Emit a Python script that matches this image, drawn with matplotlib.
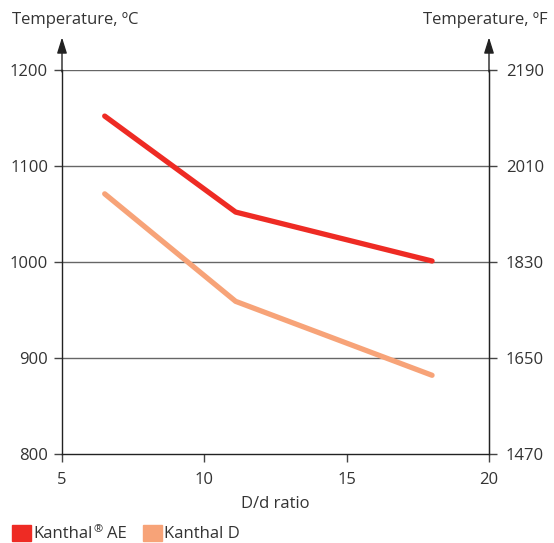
import matplotlib.pyplot as plt
from matplotlib.patches import Rectangle

# data
ratio = [6.5, 11.1, 18]
kanthal_ae = [1152, 1052, 1001]
kanthal_d = [1071, 959, 882]
c_ticks = [800, 900, 1000, 1100, 1200]
f_labels = ["1470", "1650", "1830", "2010", "2190"]
x_ticks = [5, 10, 15, 20]

RED = "#ee2b24"
SALMON = "#f7a378"
TEXT = "#333333"
W, H = 554, 543

plt.rcParams["font.family"] = ["Open Sans", "DejaVu Sans"]
plt.rcParams["font.size"] = 12

fig = plt.figure(figsize=(W / 100, H / 100), dpi=100)
ax = fig.add_axes([62 / W, 89 / H, 427 / W, 384 / H])

ax.plot(ratio, kanthal_ae, color=RED, lw=3.8, solid_capstyle="round", zorder=3)
ax.plot(ratio, kanthal_d, color=SALMON, lw=3.8, solid_capstyle="round", zorder=3)

ax.set_xlim(5, 20)
ax.set_ylim(800, 1200)
ax.set_xticks(x_ticks)
ax.set_yticks(c_ticks)
for y in c_ticks[1:]:
    ax.axhline(y, color="#666666", lw=1.0, zorder=1)

ax.spines["top"].set_visible(False)
for s in ["left", "right", "bottom"]:
    ax.spines[s].set_color("#222222")
    ax.spines[s].set_linewidth(1.0)

ax.tick_params(axis="both", colors="#444444", labelcolor=TEXT, length=6, width=1.0)
ax.tick_params(axis="x", pad=7)
ax.tick_params(axis="y", pad=4)

ax2 = ax.twinx()
ax2.set_ylim(800, 1200)
ax2.set_yticks(c_ticks)
ax2.set_yticklabels(f_labels)
for s in ["top", "left", "bottom"]:
    ax2.spines[s].set_visible(False)
ax2.spines["right"].set_color("#222222")
ax2.tick_params(axis="y", colors="#444444", labelcolor=TEXT, length=6, width=1.0, pad=6)

# axis arrows
for xpos in [0, 1]:
    ax.annotate("", xy=(xpos, 1.085), xytext=(xpos, 0.995), xycoords="axes fraction",
                arrowprops=dict(arrowstyle="-|>,head_length=0.8,head_width=0.25",
                                color="#222222", lw=1.0, shrinkA=0, shrinkB=0))

ax.set_xlabel("D/d ratio", color=TEXT, labelpad=6)
fig.text(12 / W, 1 - 20 / H, "Temperature, ºC", color=TEXT, ha="left", va="center")
fig.text(548 / W, 1 - 20 / H, "Temperature, ºF", color=TEXT, ha="right", va="center")

# legend
renderer = fig.canvas.get_renderer()


def right_edge(t):
    return fig.transFigure.inverted().transform(t.get_window_extent(renderer))[1][0]


fig.patches.append(Rectangle((12 / W, 1 - 541 / H), 19 / W, 16 / H,
                             transform=fig.transFigure, color=RED))
t1 = fig.text(33 / W, 1 - 534 / H, "Kanthal", color=TEXT, ha="left", va="center")
t2 = fig.text(right_edge(t1) + 1.5 / W, 1 - 530 / H, "®", color=TEXT, ha="left",
              va="center", fontsize=8)
fig.text(right_edge(t2) + 4 / W, 1 - 534 / H, "AE", color=TEXT, ha="left", va="center")
fig.patches.append(Rectangle((143 / W, 1 - 541 / H), 19 / W, 16 / H,
                             transform=fig.transFigure, color=SALMON))
fig.text(164 / W, 1 - 534 / H, "Kanthal D", color=TEXT, ha="left", va="center")

fig.savefig("out.png", dpi=100)
